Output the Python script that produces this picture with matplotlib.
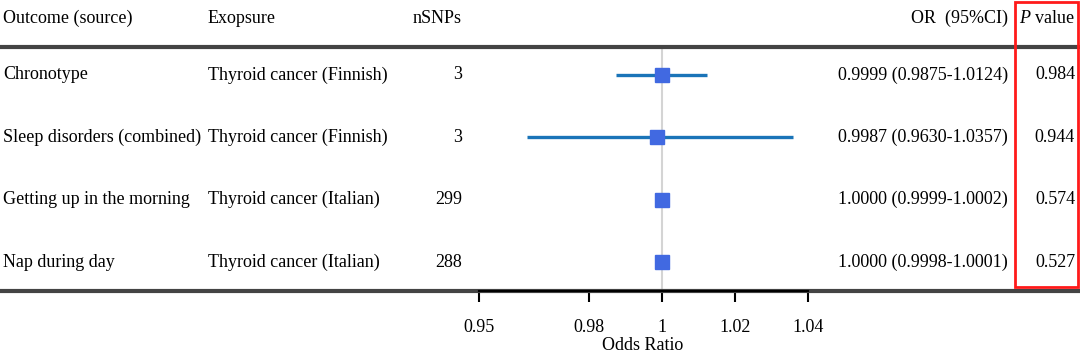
import numpy as np
import matplotlib.pyplot as plt
from matplotlib.patches import Rectangle
import matplotlib.transforms as mtransforms

plt.rcParams['font.family'] = ['Liberation Serif', 'DejaVu Serif']
plt.rcParams['mathtext.fontset'] = 'custom'
plt.rcParams['mathtext.rm'] = 'Liberation Serif'
plt.rcParams['mathtext.it'] = 'Liberation Serif:italic'

# ---- data ----
outcomes = ['Chronotype', 'Sleep disorders (combined)',
            'Getting up in the morning', 'Nap during day']
exposures = ['Thyroid cancer (Finnish)', 'Thyroid cancer (Finnish)',
             'Thyroid cancer (Italian)', 'Thyroid cancer (Italian)']
nsnps = [3, 3, 299, 288]
odds = [0.9999, 0.9987, 1.0000, 1.0000]
ci_low = [0.9875, 0.9630, 0.9999, 0.9998]
ci_high = [1.0124, 1.0357, 1.0002, 1.0001]
pvals = ['0.984', '0.944', '0.574', '0.527']
xticks = [0.95, 0.98, 1.0, 1.02, 1.04]
xticklabels = ['0.95', '0.98', '1', '1.02', '1.04']

FS = 13
fig = plt.figure(figsize=(10.8, 3.55), dpi=100)
ax = fig.add_axes([0, 64 / 355, 1, 291 / 355])

# x range chosen so the forest sits in the middle of the full-width table
ax.set_xlim(0.81913, 1.11421)
ax.set_ylim(3.46, -1.2)

rows = np.arange(len(outcomes))
head_y = -0.9

# reference line
ax.axvline(1.0, ymin=0, ymax=1 - (-0.45 + 1.2) / 4.66, color='#d4d4d4', lw=1.5, zorder=1)

# CI lines and points
ax.hlines(rows, ci_low, ci_high, color='#1a74b8', lw=2.4, zorder=2)
ax.plot(odds, rows, 's', color='#4169e1', ms=10, zorder=3)

# table lines
ax.axhline(-0.45, color='#444444', lw=3, zorder=2)
ax.axhline(3.46, color='#444444', lw=3, zorder=2, clip_on=False)

tr = mtransforms.blended_transform_factory(ax.transAxes, ax.transData)
px = lambda p: p / 1080

# header
ax.text(px(3), head_y, 'Outcome (source)', transform=tr, fontsize=FS, va='center')
ax.text(px(208), head_y, 'Exopsure', transform=tr, fontsize=FS, va='center')
ax.text(px(413), head_y, 'nSNPs', transform=tr, fontsize=FS, va='center')
ax.text(px(1008), head_y, 'OR  (95%CI)', transform=tr, fontsize=FS, va='center', ha='right')
ax.text(px(1019), head_y, r'$\it{P}$ value', transform=tr, fontsize=FS, va='center')

for i in rows:
    ax.text(px(3), i, outcomes[i], transform=tr, fontsize=FS, va='center')
    ax.text(px(208), i, exposures[i], transform=tr, fontsize=FS, va='center')
    ax.text(px(462), i, str(nsnps[i]), transform=tr, fontsize=FS, va='center', ha='right')
    ax.text(px(1008), i, f'{odds[i]:.4f} ({ci_low[i]:.4f}-{ci_high[i]:.4f})',
            transform=tr, fontsize=FS, va='center', ha='right')
    ax.text(px(1075), i, pvals[i], transform=tr, fontsize=FS, va='center', ha='right')

# red highlight box around P values
ax.add_patch(Rectangle((px(1015), -1.17), px(63), 4.56, transform=tr,
                       fill=False, edgecolor='#ff1a1a', lw=2, zorder=4, clip_on=False))

# axis
for s in ['top', 'left', 'right']:
    ax.spines[s].set_visible(False)
ax.spines['bottom'].set_bounds(0.95, 1.04)
ax.spines['bottom'].set_linewidth(1.5)
ax.spines['bottom'].set_zorder(3)
ax.set_yticks([])
ax.set_xticks(xticks)
ax.set_xticklabels(xticklabels, fontsize=FS)
ax.tick_params(axis='x', length=8, width=1.5, pad=12)
ax.set_xlabel('Odds Ratio', fontsize=FS, labelpad=1)
ax.xaxis.label.set_x(px(643))

fig.savefig('out.png', dpi=100)
